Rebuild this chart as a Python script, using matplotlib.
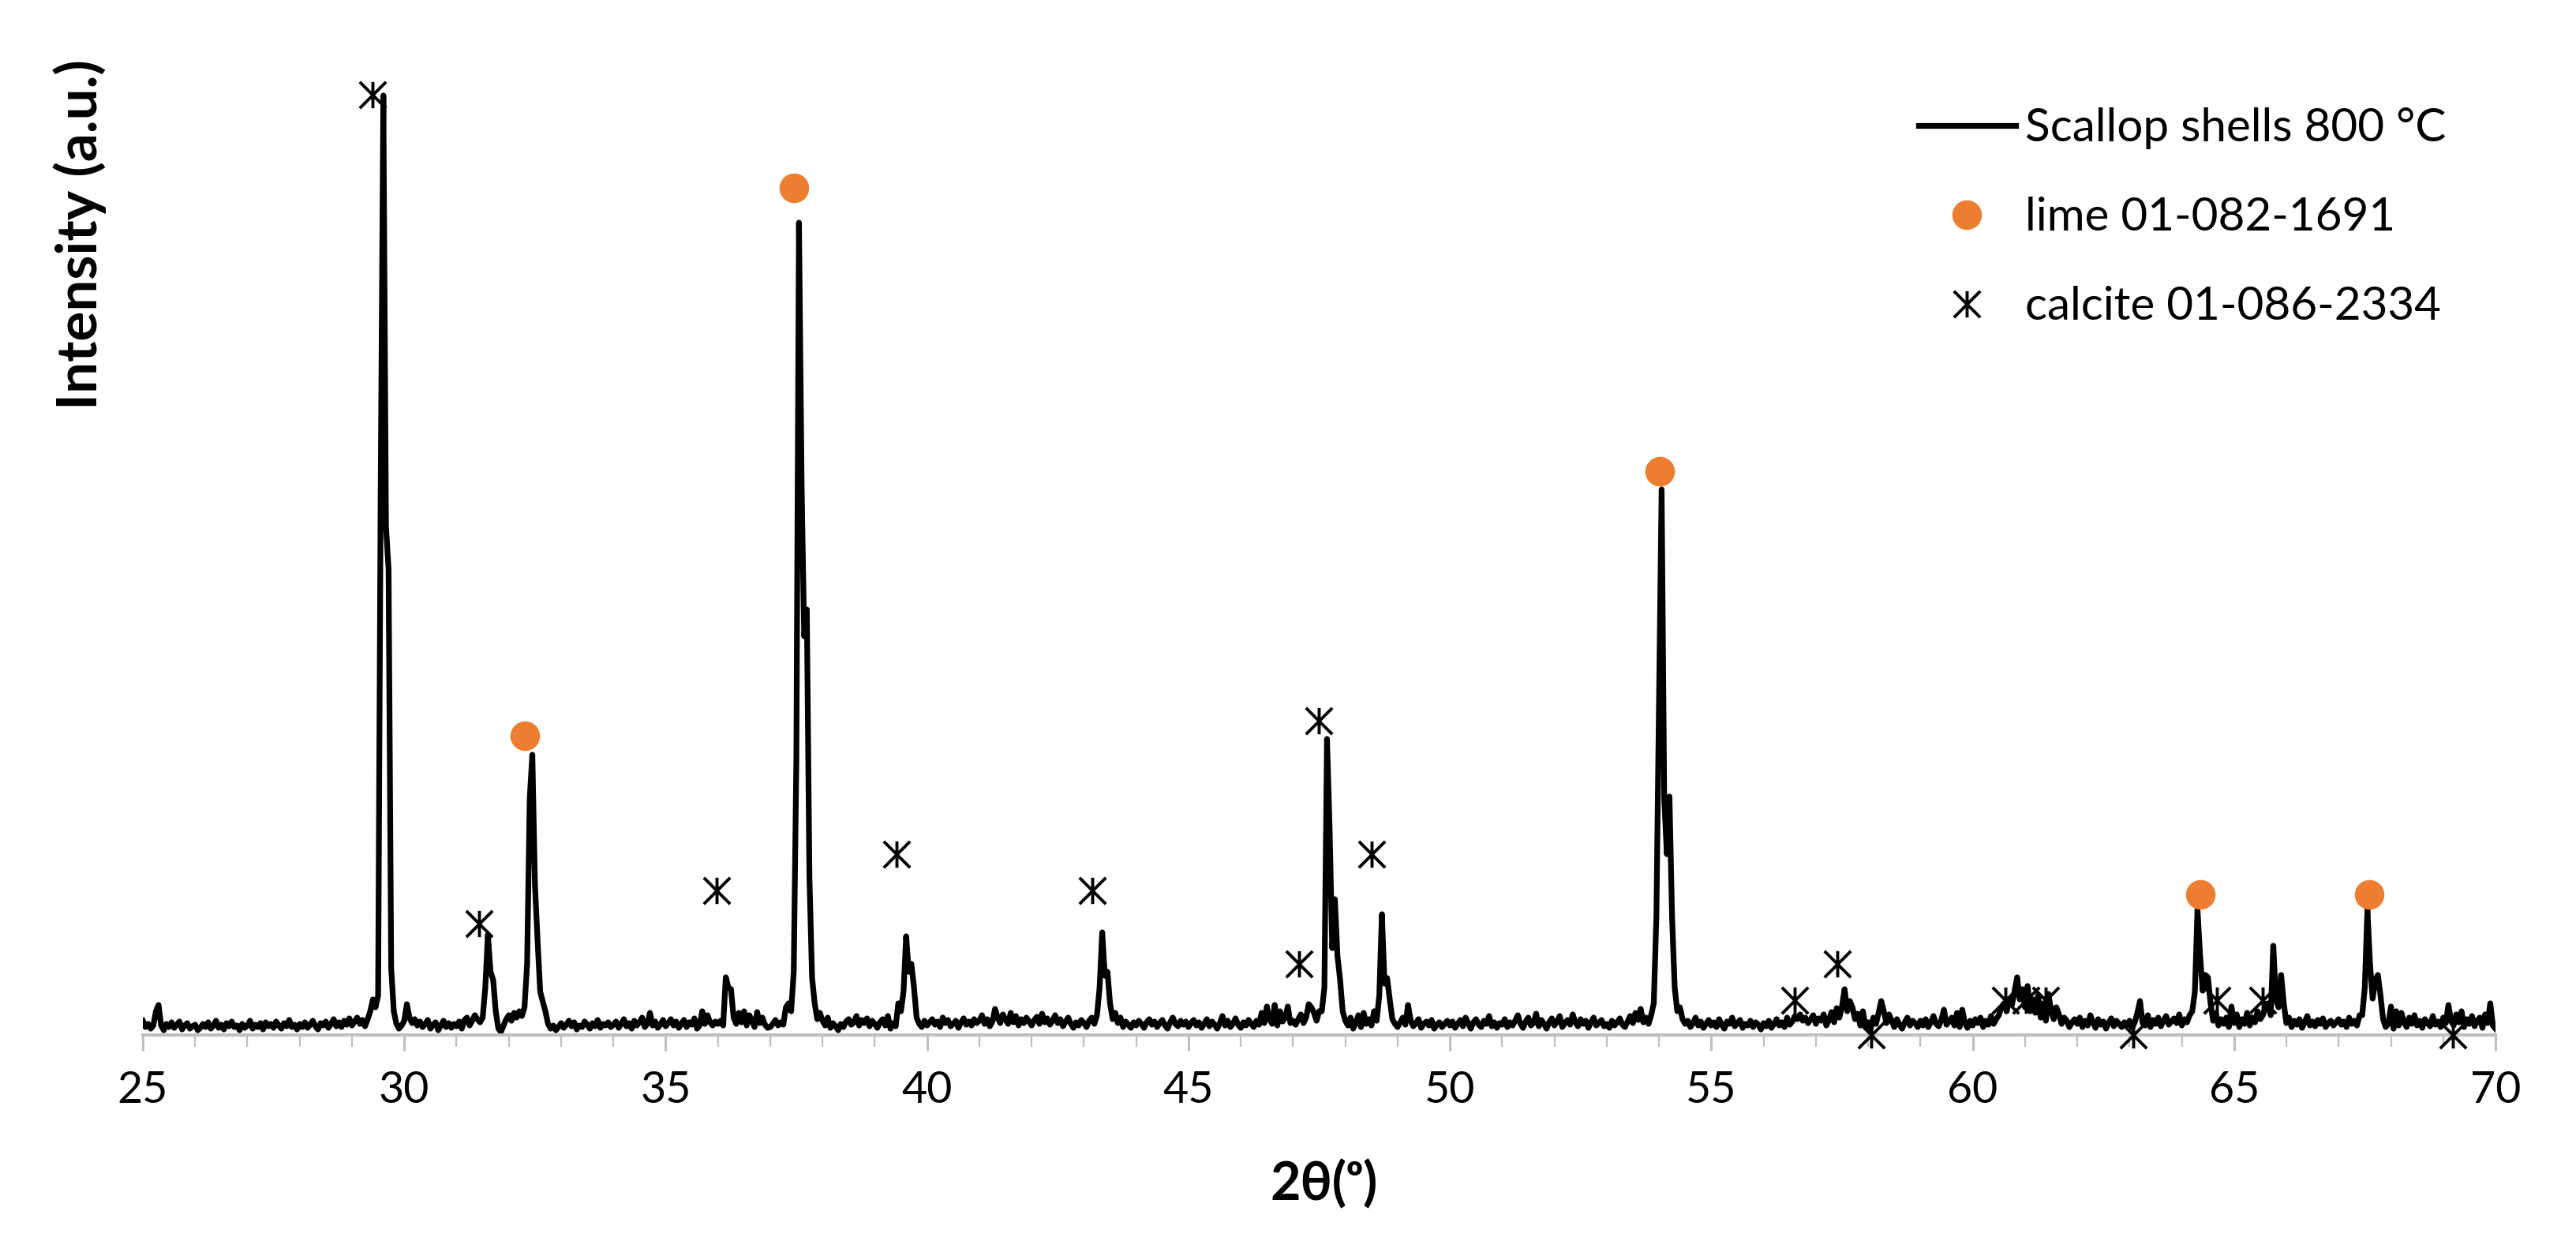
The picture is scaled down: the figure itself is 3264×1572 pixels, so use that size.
import numpy as np
import matplotlib
matplotlib.use("Agg")
import matplotlib.pyplot as plt
from matplotlib.lines import Line2D
from matplotlib.path import Path
from matplotlib.ticker import MultipleLocator

plt.rcParams['font.family'] = ['Lato', 'DejaVu Sans']

# XRD scan, 25-70 deg 2theta, step 0.05 (one row per degree)
start = 25.0
step = 0.05
intensity = [
    18, 10, 14, 8, 12, 30, 38, 12, 6, 14, 10, 16, 9, 13, 17, 7, 12, 15, 8, 11,            # 25
    13, 6, 9, 14, 10, 16, 8, 12, 18, 9, 13, 7, 15, 11, 17, 10, 12, 6, 14, 9,               # 26
    12, 18, 8, 13, 10, 15, 7, 16, 11, 14, 9, 17, 12, 8, 15, 11, 19, 10, 13, 7,             # 27
    14, 10, 16, 9, 13, 18, 11, 7, 15, 12, 17, 9, 14, 20, 11, 16, 10, 18, 13, 21,           # 28
    12, 17, 22, 14, 19, 11, 20, 30, 45, 35, 50, 700, 1190, 645, 590, 85, 30, 14, 8, 12,    # 29
    18, 39, 22, 15, 20, 12, 17, 10, 14, 19, 8, 13, 16, 6, 12, 18, 10, 15, 9, 14,           # 30
    11, 17, 8, 19, 22, 12, 18, 25, 20, 16, 22, 60, 127, 80, 70, 30, 8, 4, 12, 20,          # 31
    25, 18, 28, 22, 30, 24, 35, 90, 300, 355, 190, 120, 55, 42, 30, 14, 8, 12, 6, 10,      # 32
    15, 9, 13, 18, 11, 16, 7, 12, 10, 17, 13, 8, 15, 11, 19, 9, 14, 12, 16, 10,            # 33
    13, 17, 9, 14, 20, 11, 15, 8, 18, 12, 16, 22, 10, 14, 28, 12, 17, 9, 13, 19,           # 34
    11, 15, 20, 12, 17, 9, 14, 19, 10, 16, 13, 21, 8, 12, 30, 14, 25, 16, 12, 17,          # 35
    14, 18, 12, 73, 60, 58, 22, 14, 28, 16, 30, 12, 25, 18, 10, 29, 15, 22, 13, 9,         # 36
    10, 14, 19, 12, 16, 13, 35, 40, 30, 80, 350, 1029, 700, 505, 539, 200, 73, 40, 20, 28, # 37
    18, 12, 22, 9, 15, 11, 6, 14, 10, 17, 20, 13, 16, 24, 12, 19, 15, 21, 11, 18,          # 38
    14, 9, 16, 20, 12, 24, 8, 15, 11, 40, 30, 55, 125, 80, 90, 60, 22, 14, 10, 18,         # 39
    12, 16, 20, 13, 17, 10, 22, 15, 19, 11, 14, 18, 9, 16, 21, 13, 17, 12, 20, 15,         # 40
    18, 25, 14, 20, 11, 17, 33, 22, 15, 26, 19, 14, 28, 16, 24, 12, 20, 15, 22, 17,        # 41
    12, 19, 23, 14, 27, 16, 21, 13, 18, 25, 15, 20, 11, 17, 22, 14, 9, 16, 12, 19,         # 42
    15, 10, 18, 22, 14, 25, 60, 130, 75, 80, 40, 20, 28, 15, 22, 10, 17, 13, 9, 16,        # 43
    12, 18, 14, 9, 16, 20, 13, 17, 10, 15, 19, 12, 8, 16, 22, 14, 11, 18, 13, 17,          # 44
    10, 15, 19, 12, 16, 9, 14, 20, 11, 17, 13, 8, 15, 24, 12, 18, 10, 14, 21, 13,          # 45
    9, 16, 12, 19, 14, 10, 18, 13, 28, 15, 36, 20, 14, 38, 12, 30, 17, 22, 36, 15,         # 46
    18, 13, 20, 26, 15, 22, 39, 35, 28, 18, 30, 30, 60, 375, 260, 110, 172, 100, 70, 30,   # 47
    18, 12, 22, 8, 15, 25, 10, 28, 14, 20, 12, 30, 18, 50, 153, 65, 72, 45, 20, 14,        # 48
    10, 16, 22, 13, 38, 18, 11, 15, 20, 9, 14, 17, 12, 19, 8, 13, 16, 10, 14, 18,          # 49
    12, 17, 9, 14, 19, 11, 22, 15, 8, 16, 20, 13, 10, 18, 14, 24, 11, 16, 9, 15,           # 50
    13, 20, 10, 16, 12, 18, 25, 14, 9, 17, 22, 12, 15, 27, 11, 19, 14, 8, 16, 21,          # 51
    12, 17, 24, 10, 15, 19, 13, 26, 16, 11, 20, 14, 18, 9, 16, 22, 12, 15, 19, 11,         # 52
    14, 9, 18, 12, 16, 21, 13, 10, 17, 24, 15, 28, 19, 33, 16, 22, 14, 25, 40, 150,        # 53
    420, 691, 300, 229, 302, 150, 60, 30, 35, 20, 14, 18, 10, 15, 22, 12, 17, 9, 14, 19,   # 54
    12, 16, 10, 20, 13, 8, 17, 14, 22, 11, 15, 19, 9, 14, 12, 18, 10, 16, 13, 7,           # 55
    15, 11, 18, 9, 14, 20, 12, 16, 10, 22, 13, 17, 24, 20, 26, 18, 22, 15, 20, 25,         # 56
    14, 21, 18, 26, 12, 19, 29, 16, 34, 22, 36, 58, 30, 43, 35, 20, 27, 12, 30, 10,        # 57
    16, 8, 22, 14, 28, 43, 30, 15, 26, 18, 10, 20, 13, 8, 16, 22, 12, 18, 15, 10,          # 58
    18, 12, 20, 10, 16, 24, 14, 11, 19, 32, 13, 17, 22, 12, 28, 10, 32, 15, 9, 18,         # 59
    12, 20, 15, 22, 10, 18, 13, 24, 14, 20, 25, 35, 40, 30, 45, 38, 55, 73, 45, 58,        # 60
    35, 62, 30, 45, 28, 50, 22, 40, 18, 52, 30, 20, 35, 26, 14, 22, 18, 10, 16, 20,        # 61
    14, 22, 10, 18, 12, 25, 16, 9, 20, 13, 17, 8, 15, 21, 11, 18, 14, 10, 16, 12,          # 62
    18, 9, 16, 28, 43, 15, 12, 25, 10, 19, 14, 22, 11, 18, 24, 13, 17, 21, 15, 26,         # 63
    12, 20, 16, 25, 30, 55, 159, 100, 56, 76, 73, 40, 18, 28, 12, 20, 14, 22, 10, 36,      # 64
    15, 26, 10, 20, 14, 28, 12, 22, 16, 30, 20, 25, 35, 40, 25, 113, 45, 35, 76, 40,       # 65
    15, 22, 10, 18, 13, 20, 9, 16, 24, 12, 17, 11, 19, 14, 21, 10, 15, 18, 12, 16,         # 66
    20, 13, 17, 10, 22, 14, 18, 12, 25, 25, 60, 159, 90, 46, 70, 76, 50, 20, 10, 14,       # 67
    36, 8, 30, 12, 28, 16, 10, 22, 14, 25, 12, 18, 9, 20, 15, 11, 24, 13, 17, 10,          # 68
    22, 15, 38, 18, 12, 26, 16, 30, 10, 20, 14, 24, 11, 18, 22, 9, 26, 15, 40, 12,         # 69
    8,                                                                                      # 70
]
two_theta = start + step * np.arange(len(intensity))

# reference peak markers (2theta, height)
lime_pos = [32.31, 37.46, 54.02, 64.36, 67.59]
lime_int = [379, 1073, 714, 178, 178]
calcite_pos = [29.40, 31.43, 35.98, 39.42, 43.16, 47.12, 47.50, 48.50, 56.59, 57.41,
               58.06, 60.63, 61.02, 61.40, 63.07, 64.67, 65.54, 69.18]
calcite_int = [1191, 141, 183, 229, 183, 90, 398, 229, 44, 90,
               0, 44, 44, 44, 0, 44, 44, 0]

orange = '#ED7D31'
grey = '#BFBFBF'
star = Path([(-1, -1), (1, 1), (-1, 1), (1, -1), (0, -1), (0, 1)],
            [Path.MOVETO, Path.LINETO] * 3)

fig = plt.figure(figsize=(16.32, 7.86), dpi=200)
ax = fig.add_axes([181 / 3264, 261 / 1572, 2981 / 3264, 1240 / 1572])

ax.plot(two_theta, intensity, color='black', lw=2.6, solid_joinstyle='round', zorder=2)
ax.plot(lime_pos, lime_int, ls='none', marker='o', ms=12.5, mfc=orange, mec=orange,
        clip_on=False, zorder=3)
ax.plot(calcite_pos, calcite_int, ls='none', marker=star, ms=12, mfc='none', mec='black',
        mew=1.4, clip_on=False, zorder=3)

ax.set_xlim(25, 70)
ax.set_ylim(0, 1240)
ax.set_xticks(range(25, 71, 5))
ax.xaxis.set_minor_locator(MultipleLocator(1))
ax.set_yticks([])
for s in ['left', 'top', 'right']:
    ax.spines[s].set_visible(False)
ax.spines['bottom'].set_color(grey)
ax.spines['bottom'].set_linewidth(1.5)
ax.tick_params(axis='x', which='major', length=7.2, width=1.1, color=grey,
               labelsize=20, pad=9)
ax.tick_params(axis='x', which='minor', length=5.4, width=0.8, color=grey)

fig.text(1678 / 3264, 1 - 1501 / 1572, '2θ(ᵒ)', ha='center', va='center',
         fontsize=24, fontweight='bold')
fig.text(101 / 3264, 1 - 297 / 1572, 'Intensity (a.u.)', ha='center', va='center',
         rotation=90, fontsize=25.5, fontweight='bold')

handles = [
    Line2D([], [], color='black', lw=2.6),
    Line2D([], [], ls='none', marker='o', ms=12.5, mfc=orange, mec=orange),
    Line2D([], [], ls='none', marker=star, ms=12, mfc='none', mec='black', mew=1.4),
]
labels = ['Scallop shells 800 °C', 'lime 01-082-1691', 'calcite 01-086-2334']
ax.legend(handles, labels, loc='upper left', bbox_to_anchor=(2431 / 3264, 1 - 136 / 1572),
          bbox_transform=fig.transFigure, frameon=False, fontsize=21, borderpad=0,
          borderaxespad=0, handlelength=2.1, handletextpad=0.22, labelspacing=1.03,
          numpoints=1)

fig.savefig('out.png', dpi=200)
